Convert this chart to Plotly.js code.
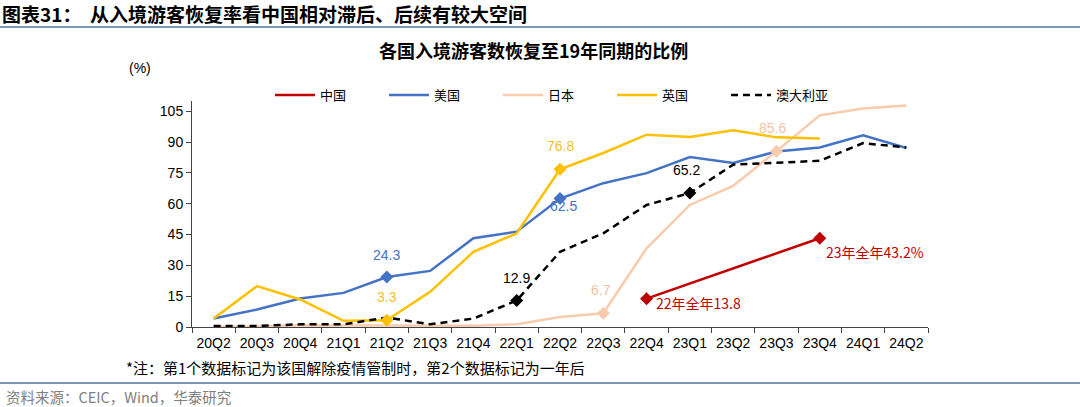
<!DOCTYPE html>
<html><head><meta charset="utf-8">
<script src="https://cdn.plot.ly/plotly-3.0.1.min.js"></script>
<style>html,body{margin:0;padding:0;background:#fff;}#chart{width:1080px;height:407px;}</style>
</head><body><div id="chart"></div>
<script>
const quarters = ["20Q2","20Q3","20Q4","21Q1","21Q2","21Q3","21Q4","22Q1","22Q2","22Q3","22Q4","23Q1","23Q2","23Q3","23Q4","24Q1","24Q2"];
const china     = [null,null,null,null,null,null,null,null,null,null,13.8,null,null,null,43.2,null,null];
const usa       = [4.1,8.5,13.9,16.6,24.3,27.3,43.2,46.4,62.5,70.0,74.9,82.7,79.8,85.4,87.4,93.3,87.1];
const japan     = [0.3,0.3,0.8,0.8,0.6,0.5,0.6,1.3,4.9,6.7,38.3,59.4,68.7,85.6,103.0,106.3,107.8];
const uk        = [4.1,19.9,13.4,3.0,3.3,17.1,36.6,45.6,76.8,84.7,93.6,92.5,95.7,92.3,91.8,null,null];
const australia = [0.5,0.5,1.3,1.3,4.6,1.3,4.1,12.9,36.6,45.6,59.4,65.2,79.0,79.8,80.9,89.5,87.4];
const seriesNames = ["中国","美国","日本","英国","澳大利亚"];
// index of "lifted restrictions" point and one year later
const markIdx = {china:[10,14], usa:[4,8], japan:[9,13], uk:[4,8], australia:[7,11]};

const C = {china:"#C00000", usa:"#4472C4", japan:"#F8CBAD", uk:"#FFC000", australia:"#000000"};
const numFont = "Liberation Sans, Arial, sans-serif";
const cjkFont = "Noto Sans CJK SC, Liberation Sans, sans-serif";

function lineTrace(name, y, color, dash){
  return {type:"scatter", mode:"lines", name:name, x:quarters, y:y, connectgaps:true,
    line:{color:color, width:2.5, dash:dash||"solid"}, hoverinfo:"skip"};
}
function markTrace(y, idx, color){
  return {type:"scatter", mode:"markers", showlegend:false, x:idx.map(i=>quarters[i]), y:idx.map(i=>y[i]),
    marker:{symbol:"diamond", size:10, color:color}, hoverinfo:"skip", cliponaxis:false};
}

const data = [
  lineTrace(seriesNames[0], china, C.china),
  lineTrace(seriesNames[1], usa, C.usa),
  lineTrace(seriesNames[2], japan, C.japan),
  lineTrace(seriesNames[3], uk, C.uk),
  lineTrace(seriesNames[4], australia, C.australia, "7px,5px"),
  markTrace(china, markIdx.china, C.china),
  markTrace(usa, markIdx.usa, C.usa),
  markTrace(japan, markIdx.japan, C.japan),
  markTrace(uk, markIdx.uk, C.uk),
  markTrace(australia, markIdx.australia, C.australia)
];

function lab(arr, i, color, xs, ys){
  return {x:quarters[i], y:arr[i], xref:"x", yref:"y", text:arr[i].toFixed(1), showarrow:false,
    xshift:xs, yshift:ys, font:{family:numFont, size:14, color:color}};
}
const annotations = [
  lab(usa, markIdx.usa[0], C.usa, 0, 22),
  lab(usa, markIdx.usa[1], C.usa, 3, -7),
  lab(uk, markIdx.uk[0], "#F5C02A", 0, 23),
  lab(uk, markIdx.uk[1], "#F5C02A", 0, 23),
  lab(australia, markIdx.australia[0], "#000000", 0, 23),
  lab(australia, markIdx.australia[1], "#000000", -3, 23),
  lab(japan, markIdx.japan[0], "#F4C4A4", -2, 23),
  lab(japan, markIdx.japan[1], "#F4C4A4", -4, 23),
  {x:quarters[markIdx.china[0]], y:china[markIdx.china[0]], xref:"x", yref:"y", xanchor:"left",
   text:"22年全年" + china[markIdx.china[0]].toFixed(1), showarrow:false, xshift:7, yshift:-4,
   font:{family:cjkFont, size:14, color:C.china}},
  {x:quarters[markIdx.china[1]], y:china[markIdx.china[1]], xref:"x", yref:"y", xanchor:"left",
   text:"23年全年" + china[markIdx.china[1]].toFixed(1) + "%", showarrow:false, xshift:4, yshift:-14,
   font:{family:cjkFont, size:14, color:C.china}},
  // header, title, unit, footnote, source
  {xref:"paper", yref:"paper", x:-192/736, y:1+(101-13)/226, xanchor:"left", yanchor:"middle",
   text:"<b>图表31：  从入境游客恢复率看中国相对滞后、后续有较大空间</b>", showarrow:false,
   font:{family:cjkFont, size:19, color:"#000"}},
  {xref:"paper", yref:"paper", x:(533-192)/736, y:1+(101-50)/226, xanchor:"center", yanchor:"middle",
   text:"<b>各国入境游客数恢复至19年同期的比例</b>", showarrow:false,
   font:{family:cjkFont, size:18, color:"#000"}},
  {xref:"paper", yref:"paper", x:(140-192)/736, y:1+(101-68)/226, xanchor:"center", yanchor:"middle",
   text:"(%)", showarrow:false, font:{family:numFont, size:14, color:"#000"}},
  {xref:"paper", yref:"paper", x:(124-192)/736, y:-(367-327)/226, xanchor:"left", yanchor:"middle",
   text:"*注：第1个数据标记为该国解除疫情管制时，第2个数据标记为一年后", showarrow:false,
   font:{family:cjkFont, size:15, color:"#000"}},
  {xref:"paper", yref:"paper", x:(4-192)/736, y:-(396-327)/226, xanchor:"left", yanchor:"middle",
   text:"资料来源：CEIC，Wind，华泰研究", showarrow:false,
   font:{family:cjkFont, size:14.5, color:"#808080"}}
];

const shapes = [
  {type:"line", xref:"paper", yref:"paper", x0:-192/736, x1:(1080-192)/736, y0:1+(101-27)/226, y1:1+(101-27)/226,
   line:{color:"#7F97B6", width:2}},
  {type:"line", xref:"paper", yref:"paper", x0:-192/736, x1:(1080-192)/736, y0:-(383-327)/226, y1:-(383-327)/226,
   line:{color:"#7F97B6", width:2}}
];

const layout = {
  width:1080, height:407, paper_bgcolor:"#fff", plot_bgcolor:"#fff",
  margin:{l:192, r:152, t:101, b:80},
  showlegend:true,
  legend:{orientation:"h", x:(270-192)/736, xanchor:"left", y:1+(101-95)/226, yanchor:"middle",
    font:{family:cjkFont, size:13, color:"#000"}, entrywidth:59, entrywidthmode:"pixels",
    bgcolor:"rgba(0,0,0,0)", itemwidth:40},
  xaxis:{type:"category", categoryorder:"array", categoryarray:quarters, showgrid:false, zeroline:false,
    showline:true, linecolor:"#444", linewidth:1, ticks:"outside", tickson:"boundaries", ticklen:5,
    tickcolor:"#444", tickangle:0, ticklabelstandoff:3, tickfont:{family:numFont, size:14, color:"#000"},
    range:[-0.5,16.5], fixedrange:true},
  yaxis:{range:[0,110], dtick:15, tick0:0, showgrid:false, zeroline:false, showline:true, linecolor:"#444",
    linewidth:1, ticks:"outside", ticklen:5, tickcolor:"#444",
    tickfont:{family:numFont, size:14, color:"#000"}, fixedrange:true},
  annotations:annotations, shapes:shapes
};
Plotly.newPlot("chart", data, layout, {displayModeBar:false, staticPlot:true});
</script></body></html>
